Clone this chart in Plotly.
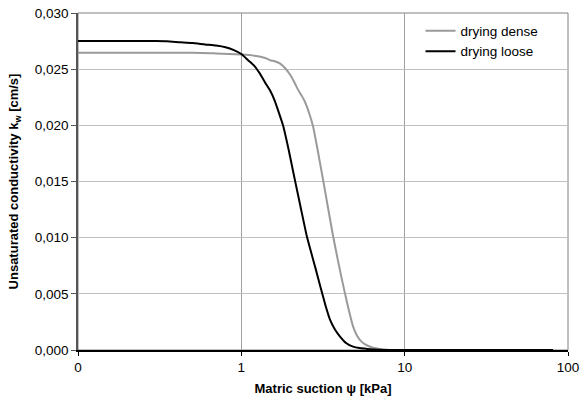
import plotly.graph_objects as go

# Matric suction [kPa] and unsaturated conductivity [cm/s]
dense_x = [0.1, 0.3, 0.5, 0.65, 0.7, 1.0, 1.2, 1.4, 1.5, 1.6, 1.73, 1.85, 1.99, 2.1, 2.22, 2.35, 2.45, 2.6, 2.75,
           2.95, 3.17, 3.4, 3.65, 3.9, 4.14, 4.44, 4.83, 5.1, 5.48, 5.9, 6.4, 7.5, 10, 20, 40, 81]
dense_y = [0.02646, 0.02646, 0.02646, 0.02642, 0.0264, 0.0263, 0.0262, 0.0260, 0.0258, 0.0257, 0.0255, 0.0251,
           0.0245, 0.0239, 0.0232, 0.0226, 0.0221, 0.0211, 0.0199, 0.0176, 0.0151, 0.0126, 0.0101, 0.0080,
           0.0062, 0.0042, 0.0021, 0.0013, 0.0007, 0.0004, 0.0002, 0.00003, 0.0, 0.0, 0.0, 0.0]

loose_x = [0.1, 0.2, 0.3, 0.35, 0.42, 0.5, 0.6, 0.7, 0.8, 0.9, 1.0, 1.1, 1.2, 1.3, 1.4, 1.5, 1.6, 1.7, 1.8,
           1.95, 2.13, 2.3, 2.52, 2.83, 3.0, 3.12, 3.3, 3.49, 3.75, 4.02, 4.4, 4.83, 5.3, 5.9, 7.0, 10, 20, 40, 81]
loose_y = [0.02751, 0.02751, 0.0275, 0.02748, 0.0274, 0.02733, 0.0272, 0.0271, 0.02695, 0.0267, 0.02635,
           0.0258, 0.0253, 0.0246, 0.0238, 0.0231, 0.0222, 0.0211, 0.0200, 0.0178, 0.0151, 0.0128, 0.0101,
           0.0074, 0.0060, 0.0051, 0.0038, 0.0027, 0.0018, 0.0012, 0.0006, 0.0003, 0.00017, 0.0001, 0.00003,
           0.0, 0.0, 0.0, 0.0]

x_tickvals = [0.1, 1, 10, 100]
x_ticktext = ["0", "1", "10", "100"]
y_tickvals = [0, 0.005, 0.010, 0.015, 0.020, 0.025, 0.030]

FONT = "Liberation Sans, Arial, sans-serif"

fig = go.Figure()
fig.add_trace(go.Scatter(x=dense_x, y=dense_y, mode="lines", name="drying dense",
                         line=dict(color="#9a9a9a", width=2, shape="spline", smoothing=0.5)))
fig.add_trace(go.Scatter(x=loose_x, y=loose_y, mode="lines", name="drying loose",
                         line=dict(color="#000000", width=2, shape="spline", smoothing=0.5)))

fig.update_layout(
    width=580, height=410,
    margin=dict(l=78, r=12, t=13, b=60),
    paper_bgcolor="white", plot_bgcolor="white",
    separators=", ",
    font=dict(family=FONT, size=13.5, color="black"),
    showlegend=True,
    legend=dict(x=0.699, y=0.993, xanchor="left", yanchor="top",
                bgcolor="rgba(0,0,0,0)", font=dict(size=13.5),
                tracegroupgap=0, itemwidth=30),
    shapes=[dict(type="rect", xref="paper", yref="paper", x0=0, x1=1, y0=0, y1=1,
                 line=dict(color="#808080", width=1), layer="below")],
)
fig.update_xaxes(
    type="log", range=[-1, 2], automargin=False,
    tickvals=x_tickvals, ticktext=x_ticktext,
    showgrid=True, gridcolor="#a0a0a0", gridwidth=1,
    showline=True, linecolor="black", linewidth=1.5,
    ticks="outside", ticklen=4, tickcolor="black",
    zeroline=False,
    title=dict(text="<b>Matric suction ψ [kPa]</b>", font=dict(size=13), standoff=10),
)
fig.update_yaxes(
    range=[0, 0.030], tickvals=y_tickvals, tickformat=".3f", automargin=False,
    showgrid=True, gridcolor="#c0c0c0", gridwidth=1.2,
    showline=True, linecolor="#555555", linewidth=1.5,
    ticks="outside", ticklen=5, tickcolor="#555555",
    zeroline=False,
    title=dict(text="<b>Unsaturated conductivity k<sub>w</sub> [cm/s]</b>", font=dict(size=13), standoff=13),
)

fig.write_html("out.html")
